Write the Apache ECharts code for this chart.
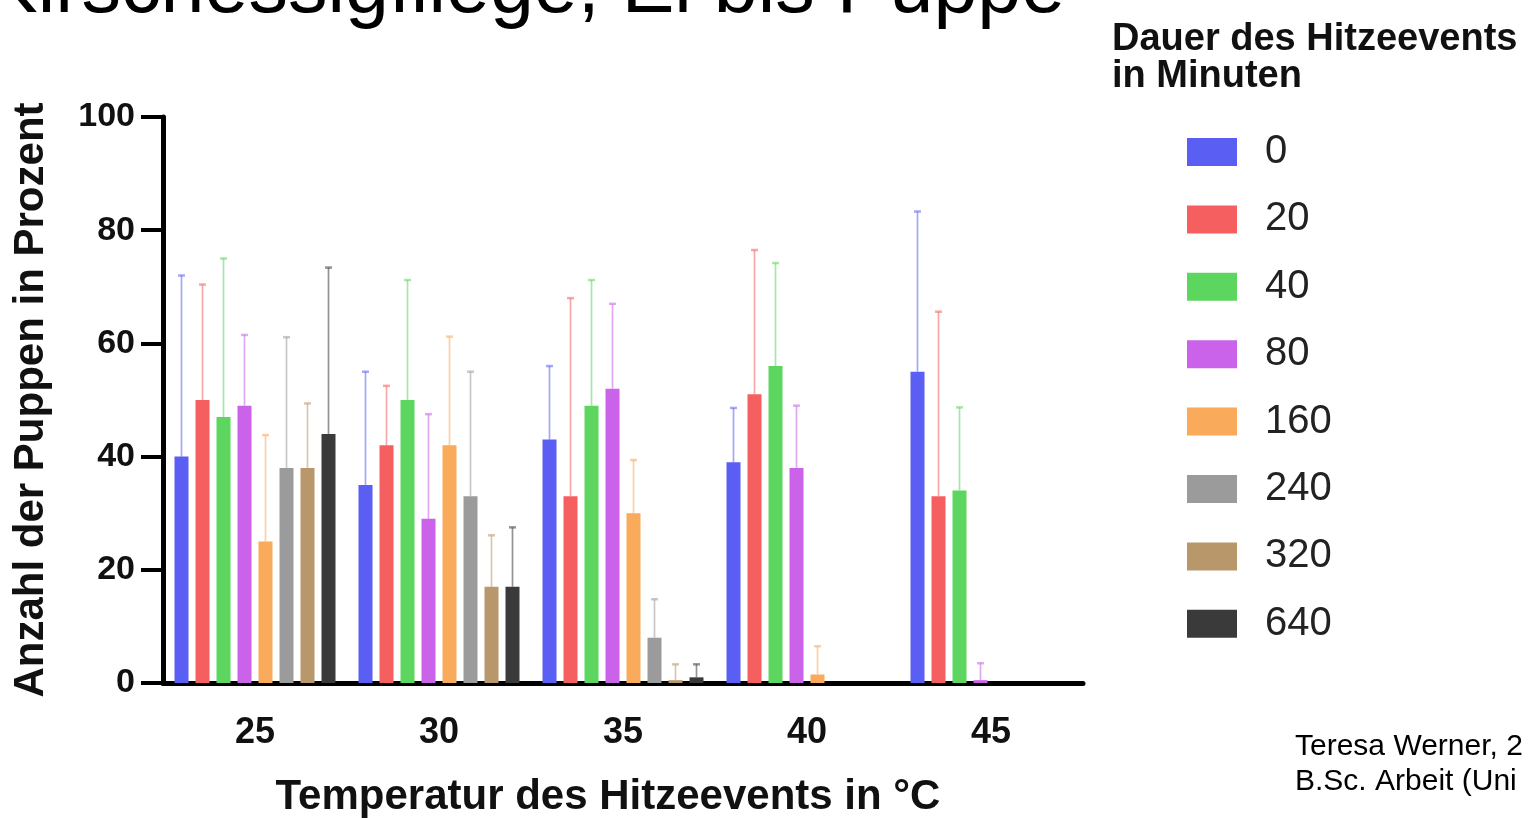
<!DOCTYPE html>
<html>
<head>
<meta charset="utf-8">
<title>Kirschessigfliege, Ei bis Puppe</title>
<script src="https://cdn.jsdelivr.net/npm/echarts@6/dist/echarts.min.js"></script>
<style>
  html, body { margin: 0; padding: 0; background: #fff; }
  #chart { width: 1536px; height: 818px; }
</style>
</head>
<body>
<div id="chart"></div>
<script>
// temperatures (x categories) and durations (series)
const temps = ['25', '30', '35', '40', '45']
const durations = ['0', '20', '40', '80', '160', '240', '320', '640']

// mean % pupae per duration, one value per temperature (null = not tested)
const mean0   = [40, 35, 43, 39, 55]
const mean20  = [50, 42, 33, 51, 33]
const mean40  = [47, 50, 49, 56, 34]
const mean80  = [49, 29, 52, 38, 0.5]
const mean160 = [25, 42, 30, 1.5, null]
const mean240 = [38, 33, 8, null, null]
const mean320 = [38, 17, 0.5, null, null]
const mean640 = [44, 17, 1, null, null]

// upper end of the error bars
const err0   = [72, 55, 56, 48.6, 83.3]
const err20  = [70.4, 52.5, 68, 76.5, 65.6]
const err40  = [75, 71.2, 71.2, 74.2, 48.7]
const err80  = [61.5, 47.5, 67, 49, 3.5]
const err160 = [43.8, 61.2, 39.4, 6.5, null]
const err240 = [61.1, 55, 14.8, null, null]
const err320 = [49.4, 26.1, 3.3, null, null]
const err640 = [73.4, 27.5, 3.3, null, null]

const yTicks = [0, 20, 40, 60, 80, 100]

const means = [mean0, mean20, mean40, mean80, mean160, mean240, mean320, mean640]
const errs = [err0, err20, err40, err80, err160, err240, err320, err640]
const colors = ['#5B5EF2', '#F65F5F', '#5DD65F', '#CB62EA', '#F9AA5A', '#9B9B9B', '#B8976B', '#3A3A3A']

const BAR_W = 14
const BAR_GAP = 7
const FONT = "'Liberation Sans', Arial, Helvetica, sans-serif"

const chart = echarts.init(document.getElementById('chart'), null, { renderer: 'canvas' })

const barSeries = durations.map((d, i) => ({
  name: d,
  type: 'bar',
  data: means[i],
  barWidth: BAR_W,
  barGap: (BAR_GAP / BAR_W * 100) + '%',
  itemStyle: { color: colors[i] },
  emphasis: { disabled: true },
  z: 3,
}))

// error bars (upper only), shifted to sit on their own bar
const errSeries = durations.map((d, i) => {
  const offset = (i - (durations.length - 1) / 2) * (BAR_W + BAR_GAP)
  const data = []
  temps.forEach((t, k) => {
    if (means[i][k] != null && errs[i][k] != null) data.push([k, errs[i][k], means[i][k]])
  })
  return {
    name: 'err-' + d,
    type: 'custom',
    data,
    z: 2,
    silent: true,
    renderItem: (params, api) => {
      const base = api.coord([api.value(0), api.value(2)])
      const tip = api.coord([api.value(0), api.value(1)])
      const x = base[0] + offset
      const style = { stroke: colors[i], opacity: 0.55, lineWidth: 1.7 }
      return {
        type: 'group',
        children: [
          { type: 'line', shape: { x1: x, y1: base[1], x2: x, y2: tip[1] }, style },
          { type: 'line', shape: { x1: x - 3.5, y1: tip[1], x2: x + 3.5, y2: tip[1] }, style: { ...style, lineWidth: 2.5 } },
        ],
      }
    },
  }
})

chart.setOption({
  animation: false,
  backgroundColor: '#fff',
  textStyle: { fontFamily: FONT },
  grid: { left: 163, right: 453, top: 117, bottom: 135, containLabel: false, outerBoundsMode: 'none' },
  legend: {
    data: durations,
    orient: 'vertical',
    left: 1187,
    top: 132,
    padding: 0,
    icon: 'rect',
    itemWidth: 50,
    itemHeight: 28,
    itemGap: 27.4,
    selectedMode: false,
    textStyle: { fontSize: 40, color: '#222', fontFamily: FONT, padding: [0, 0, 0, 23] },
  },
  xAxis: {
    type: 'category',
    data: temps,
    name: 'Temperatur des Hitzeevents in °C',
    nameLocation: 'middle',
    nameGap: 93,
    nameTextStyle: { fontSize: 42, fontWeight: 'bold', color: '#111', fontFamily: FONT, padding: [0, 30, 0, 0] },
    axisLine: { lineStyle: { color: '#000', width: 5 } },
    axisTick: { alignWithLabel: true, length: 8, lineStyle: { color: '#000', width: 4 } },
    axisLabel: { fontSize: 36, fontWeight: 'bold', color: '#111', margin: 32 },
  },
  yAxis: {
    type: 'value',
    min: yTicks[0],
    max: yTicks[yTicks.length - 1],
    interval: yTicks[1] - yTicks[0],
    name: 'Anzahl der Puppen in Prozent',
    nameLocation: 'middle',
    nameGap: 111,
    nameTextStyle: { fontSize: 42, fontWeight: 'bold', color: '#111', fontFamily: FONT },
    axisLine: { show: true, lineStyle: { color: '#000', width: 5 } },
    axisTick: { show: true, length: 22, lineStyle: { color: '#000', width: 4 } },
    axisLabel: { fontSize: 34, fontWeight: 'bold', color: '#111', margin: 28 },
    splitLine: { show: false },
  },
  graphic: [
    {
      type: 'text', left: -15, top: -49, silent: true,
      style: { text: 'Kirschessigfliege, Ei bis Puppe', font: '79px ' + FONT, fill: '#000' },
    },
    {
      type: 'text', left: 1112, top: 21, silent: true,
      style: { text: 'Dauer des Hitzeevents\nin Minuten', font: 'bold 38px ' + FONT, fill: '#111', lineHeight: 37 },
    },
    {
      type: 'text', left: 1295, top: 729, silent: true,
      style: { text: 'Teresa Werner, 2\nB.Sc. Arbeit (Uni', font: '30px ' + FONT, fill: '#000', lineHeight: 35 },
    },
  ],
  series: [...barSeries, ...errSeries],
})
</script>
</body>
</html>
